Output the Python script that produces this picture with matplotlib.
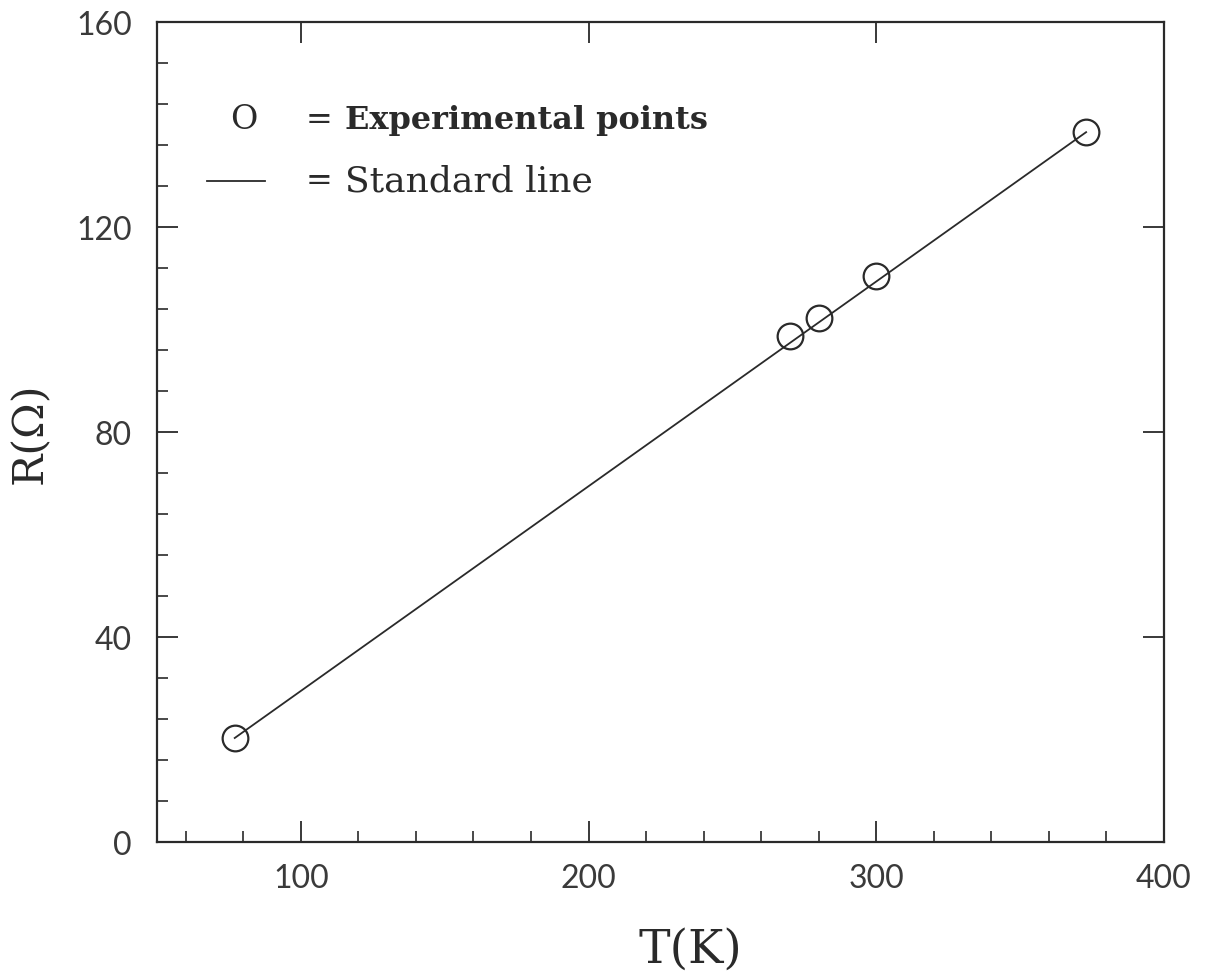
import matplotlib
matplotlib.use("Agg")
import matplotlib.pyplot as plt
from matplotlib.ticker import MultipleLocator

# Data
temperature_K = [77, 270, 280, 300, 373]
resistance_ohm = [20.3, 98.8, 102.2, 110.4, 138.5]
line_T = [77, 373]
line_R = [20.3, 138.5]

x_ticks = [100, 200, 300, 400]
y_ticks = [0, 40, 80, 120, 160]

ink = "#2a2a2a"
tick_font = "Lato"
serif = "DejaVu Serif"

fig = plt.figure(figsize=(12.1, 9.78), dpi=100)
ax = fig.add_axes([0.1298, 0.138, 0.832, 0.8385])

ax.plot(line_T, line_R, color=ink, lw=1.3, zorder=2)
ax.plot(temperature_K, resistance_ohm, linestyle="none", marker="o", ms=18.5,
        mfc="none", mec=ink, mew=1.6, zorder=3)

ax.set_xlim(50, 400)
ax.set_ylim(0, 160)
ax.set_xticks(x_ticks)
ax.set_yticks(y_ticks)
ax.xaxis.set_minor_locator(MultipleLocator(20))
ax.yaxis.set_minor_locator(MultipleLocator(8))

ax.tick_params(which="major", direction="in", length=15, width=1.3, color=ink,
               top=True, right=True, labelsize=23, labelcolor="#3a3a3a")
ax.tick_params(axis="x", which="major", pad=15)
ax.tick_params(axis="y", which="major", pad=18)
ax.tick_params(which="minor", direction="in", length=8, width=1.2, color=ink,
               top=False, right=False)
for lab in ax.get_xticklabels() + ax.get_yticklabels():
    lab.set_fontfamily(tick_font)
    lab.set_fontweight("normal")

for s in ax.spines.values():
    s.set_linewidth(1.6)
    s.set_color(ink)

ax.set_xlabel("T(K)", fontsize=34, family=serif, color=ink)
ax.xaxis.set_label_coords(0.53, -0.103)
ax.set_ylabel("R(Ω)", fontsize=31, family=serif, color=ink)
ax.yaxis.set_label_coords(-0.105, 0.5)

# legend-like annotation
ax.text(75.4, 141, "O", fontsize=24, family=serif, color=ink, va="center")
ax.text(101.5, 141, "=", fontsize=23, family=serif, color=ink, va="center")
ax.text(115.4, 141, "Experimental points", fontsize=23, family=serif,
        fontweight="bold", color=ink, va="center")
ax.plot([67.4, 87.6], [129, 129], color=ink, lw=1.3)
ax.text(101.5, 129, "=", fontsize=23, family=serif, color=ink, va="center")
ax.text(115.4, 129, "Standard line", fontsize=26, family=serif, color=ink,
        va="center")

fig.savefig("out.png", dpi=100, facecolor="white")
